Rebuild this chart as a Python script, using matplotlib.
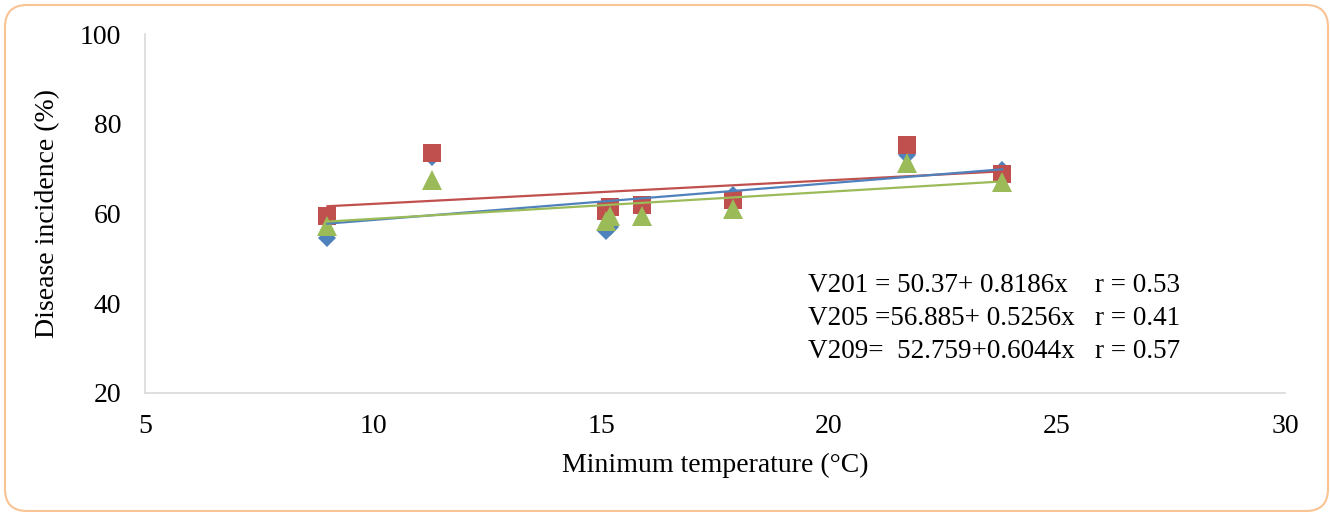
import numpy as np
import matplotlib
matplotlib.use("Agg")
import matplotlib.pyplot as plt
from matplotlib.patches import FancyBboxPatch

# minimum temperature (deg C)
min_temp = [9.0, 11.3, 15.1, 15.2, 15.9, 17.9, 21.7, 23.8]

# disease incidence (%) per variety
v201 = [54.5, 72.7, 56.0, 57.1, 61.5, 64.1, 73.0, 69.8]
v205 = [59.4, 73.5, 60.5, 61.4, 62.0, 62.9, 75.2, 68.8]
v209 = [57.2, 67.4, 58.3, 59.4, 59.5, 61.0, 71.2, 67.0]

# reported regression coefficients (intercept, slope)
fit_v201 = (50.37, 0.8186)
fit_v205 = (56.885, 0.5256)
fit_v209 = (52.759, 0.6044)

equations = [
    "V201 = 50.37+ 0.8186x    r = 0.53",
    "V205 =56.885+ 0.5256x   r = 0.41",
    "V209=  52.759+0.6044x   r = 0.57",
]

x_ticks = [5, 10, 15, 20, 25, 30]
y_ticks = [20, 40, 60, 80, 100]

plt.rcParams["font.family"] = ["Liberation Serif", "DejaVu Serif"]

blue = "#4F81BD"
red = "#C0504D"
green = "#9BBB59"


def main():
    fig = plt.figure(figsize=(13.3, 5.12), dpi=100)
    ax = fig.add_axes([145 / 1330, 119 / 512, 1140 / 1330, 359 / 512])

    # markers (drawn first so the trend lines sit on top)
    ax.plot(min_temp, v201, linestyle="none", marker="D", markersize=9.5,
            markeredgewidth=0, color=blue, zorder=2)
    ax.plot(min_temp, v205, linestyle="none", marker="s", markersize=13,
            markeredgewidth=0, color=red, zorder=3)
    ax.plot(min_temp, v209, linestyle="none", marker="^", markersize=14,
            markeredgewidth=0, color=green, zorder=4)

    # linear trend lines over the data range
    xs = np.array([min(min_temp), max(min_temp)])
    for (b0, b1), c, z in [(fit_v201, blue, 6), (fit_v205, red, 5), (fit_v209, green, 7)]:
        ax.plot(xs, b0 + b1 * xs, color=c, linewidth=1.6, zorder=z)

    ax.set_xlim(5, 30)
    ax.set_ylim(20, 100)
    ax.set_xticks(x_ticks)
    ax.set_yticks(y_ticks)
    ax.tick_params(length=0, labelsize=20, pad=17)
    ax.tick_params(axis="x", pad=15)

    for side in ["top", "right"]:
        ax.spines[side].set_visible(False)
    for side in ["left", "bottom"]:
        ax.spines[side].set_color("#D9D9D9")
        ax.spines[side].set_linewidth(1.2)

    ax.set_xlabel("Minimum temperature (\u00b0C)", fontsize=20, labelpad=10)
    ax.set_ylabel("Disease incidence (%)", fontsize=20, labelpad=14)

    for i, line in enumerate(equations):
        fig.text(1180 / 1330, 1 - (285 + i * 33.5) / 512, line, fontsize=19.5,
                 ha="right", va="center")

    # rounded border around the chart
    border = FancyBboxPatch((0.05, 0.01), 13.23, 5.06,
                            boxstyle="round,pad=0,rounding_size=0.22",
                            transform=fig.dpi_scale_trans, facecolor="none",
                            edgecolor="#F9C393", linewidth=1.5, zorder=0)
    fig.patches.append(border)

    fig.savefig("out.png", dpi=100)


if __name__ == "__main__":
    main()
